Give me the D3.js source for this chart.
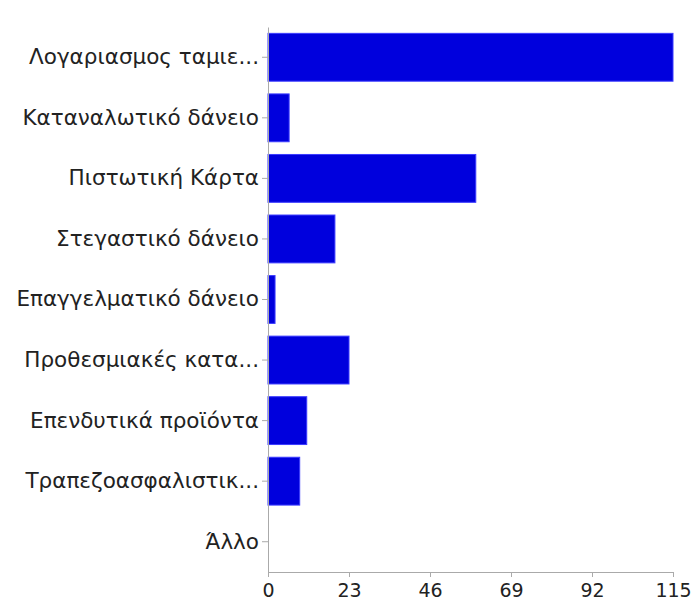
<!DOCTYPE html>
<html><head><meta charset="utf-8">
<script src="https://cdn.jsdelivr.net/npm/d3@7"></script>
<style>body{margin:0;background:#fff}svg{display:block}</style>
</head><body>
<svg id="c" width="695" height="601"></svg>
<script>
const categories = ["Λογαριασμος ταμιε...","Καταναλωτικό δάνειο","Πιστωτική Κάρτα","Στεγαστικό δάνειο","Επαγγελματικό δάνειο","Προθεσμιακές κατα...","Επενδυτικά προϊόντα","Τραπεζοασφαλιστικ...","Άλλο"];
const values = [115,6,59,19,2,23,11,9,0];
const ticks = [0,23,46,69,92,115];

(function(){
const svg = d3.select("#c");
const mLeft = 268, mRight = 673, mTop = 27, mBottom = 572;
const x = d3.scaleLinear().domain([0,115]).range([mLeft,mRight]);
const y = d3.scaleBand().domain(categories).range([mTop,mBottom]).paddingInner(0.21).paddingOuter(0.105);

svg.selectAll("rect.bar").data(categories).enter().append("rect")
  .attr("class","bar")
  .attr("x", x(0))
  .attr("y", d => y(d))
  .attr("width", (d,i) => x(values[i]) - x(0))
  .attr("height", y.bandwidth())
  .attr("fill","#0000dd")
  .attr("stroke","#3b3bff")
  .attr("stroke-width",1)
  .style("display",(d,i)=>values[i]>0?null:"none");

const yAxis = svg.append("g").attr("transform",`translate(${mLeft},0)`)
  .call(d3.axisLeft(y).tickSize(6).tickPadding(3).tickSizeOuter(0));
yAxis.select(".domain").attr("stroke","#aaa");
yAxis.selectAll(".tick line").attr("stroke","#aaa");
yAxis.selectAll(".tick text").attr("fill","#222").style("font-family","'DejaVu Sans', sans-serif").style("font-size","21.5px");

const xAxis = svg.append("g").attr("transform",`translate(0,${mBottom})`)
  .call(d3.axisBottom(x).tickValues(ticks).tickSize(5).tickPadding(7).tickSizeOuter(0));
xAxis.select(".domain").attr("stroke","#aaa");
xAxis.selectAll(".tick line").attr("stroke","#aaa");
xAxis.selectAll(".tick text").attr("fill","#222").style("font-family","'DejaVu Sans', sans-serif").style("font-size","19px");
})();
</script>
</body></html>
